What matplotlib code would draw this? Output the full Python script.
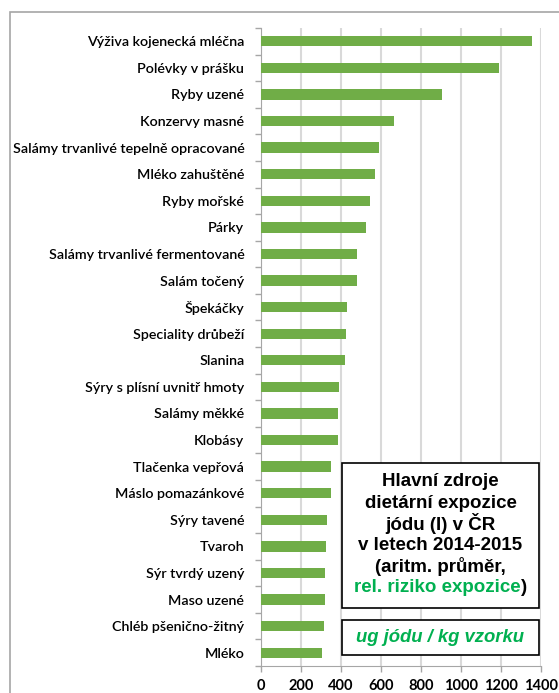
import numpy as np
import matplotlib
matplotlib.use("Agg")
import matplotlib.pyplot as plt
from matplotlib.patches import Rectangle

categories = [
    "Výživa kojenecká mléčna", "Polévky v prášku", "Ryby uzené", "Konzervy masné",
    "Salámy trvanlivé tepelně opracované", "Mléko zahuštěné", "Ryby mořské", "Párky",
    "Salámy trvanlivé fermentované", "Salám točený", "Špekáčky", "Speciality drůbeží",
    "Slanina", "Sýry s plísní uvnitř hmoty", "Salámy měkké", "Klobásy",
    "Tlačenka vepřová", "Máslo pomazánkové", "Sýry tavené", "Tvaroh",
    "Sýr tvrdý uzený", "Maso uzené", "Chléb pšenično-žitný", "Mléko",
]
values = [1356, 1188, 907, 667, 590, 572, 543, 527,
          480, 481, 430, 427, 418, 388, 385, 385,
          352, 348, 328, 325, 322, 322, 313, 305]
x_ticks = [0, 200, 400, 600, 800, 1000, 1200, 1400]

title_lines = ["Hlavní zdroje", "dietární expozice", "jódu (I) v ČR",
               "v letech 2014-2015", "(aritm. průměr,"]
title_green = "rel. riziko expozice"
unit_text = "ug jódu / kg vzorku"

W, H = 559, 693
bar_green = "#70ad47"
txt_green = "#00b050"

fig = plt.figure(figsize=(W / 100, H / 100), dpi=100)

# outer chart frame (runs off the right and bottom)
fig.patches.append(Rectangle((10 / W, -0.1), 1.2, 1.1 - 12 / H, transform=fig.transFigure,
                             fill=False, edgecolor="#a6a6a6", linewidth=1.2))

ax = fig.add_axes([261 / W, 27 / H, 280 / W, (666 - 28) / H])
y = np.arange(len(categories))
ax.barh(y, values, height=0.39, color=bar_green, zorder=3)
ax.set_ylim(len(categories) - 0.5, -0.5)
ax.set_xlim(0, 1400)
ax.set_xticks(x_ticks)
ax.set_xticklabels([str(v) for v in x_ticks], fontfamily="Lato", fontweight="bold",
                   fontsize=10.5)
ax.set_yticks(y)
ax.set_yticklabels(categories, fontfamily="Lato", fontweight="semibold", fontsize=10.3)
ax.set_yticks(np.arange(-0.5, len(categories)), minor=True)
ax.tick_params(axis="y", which="major", length=0, pad=12)
ax.tick_params(axis="y", which="minor", length=4, color="#a6a6a6", width=1)
ax.tick_params(axis="x", length=4, color="#a6a6a6", width=1, pad=5)
ax.grid(axis="x", color="#d9d9d9", linewidth=1.5, zorder=0)
for s in ["top", "right"]:
    ax.spines[s].set_visible(False)
ax.spines["left"].set_color("#a6a6a6")
ax.spines["bottom"].set_color("#a6a6a6")
ax.axvline(1400, color="#a6a6a6", linewidth=1.2, zorder=1)

# text boxes
def fx(px):
    return px / W

def fy(py):
    return 1 - py / H

bx0, bx1 = 342, 539
fig.patches.append(Rectangle((fx(bx0), fy(608)), (bx1 - bx0) / W, (608 - 463) / H,
                             transform=fig.transFigure, facecolor="white",
                             edgecolor="black", linewidth=1.2, zorder=5))
fig.patches.append(Rectangle((fx(bx0), fy(655)), (bx1 - bx0) / W, (655 - 620) / H,
                             transform=fig.transFigure, facecolor="white",
                             edgecolor="black", linewidth=1.2, zorder=5))

cx = (bx0 + bx1) / 2
tkw = dict(fontfamily="Liberation Sans", fontweight="bold", fontsize=13.5,
           ha="center", va="center", zorder=6)
line_y = [481, 503, 524, 545, 567]
for s, py in zip(title_lines, line_y):
    fig.text(fx(cx), fy(py), s, **tkw)

# last line with green part and black bracket
t1 = fig.text(0, 0, title_green, **tkw)
t2 = fig.text(0, 0, ")", **tkw)
fig.canvas.draw()
r = fig.canvas.get_renderer()
w1 = t1.get_window_extent(r).width
w2 = t2.get_window_extent(r).width
start = cx - (w1 + w2) / 2
t1.set_position((fx(start + w1 / 2), fy(588)))
t1.set_color(txt_green)
t2.set_position((fx(start + w1 + w2 / 2), fy(588)))

fig.text(fx(cx), fy(637), unit_text, fontfamily="Liberation Sans", fontweight="bold",
         fontstyle="italic", fontsize=13.3, color=txt_green, ha="center", va="center",
         zorder=6)

fig.savefig("out.png", dpi=100)
